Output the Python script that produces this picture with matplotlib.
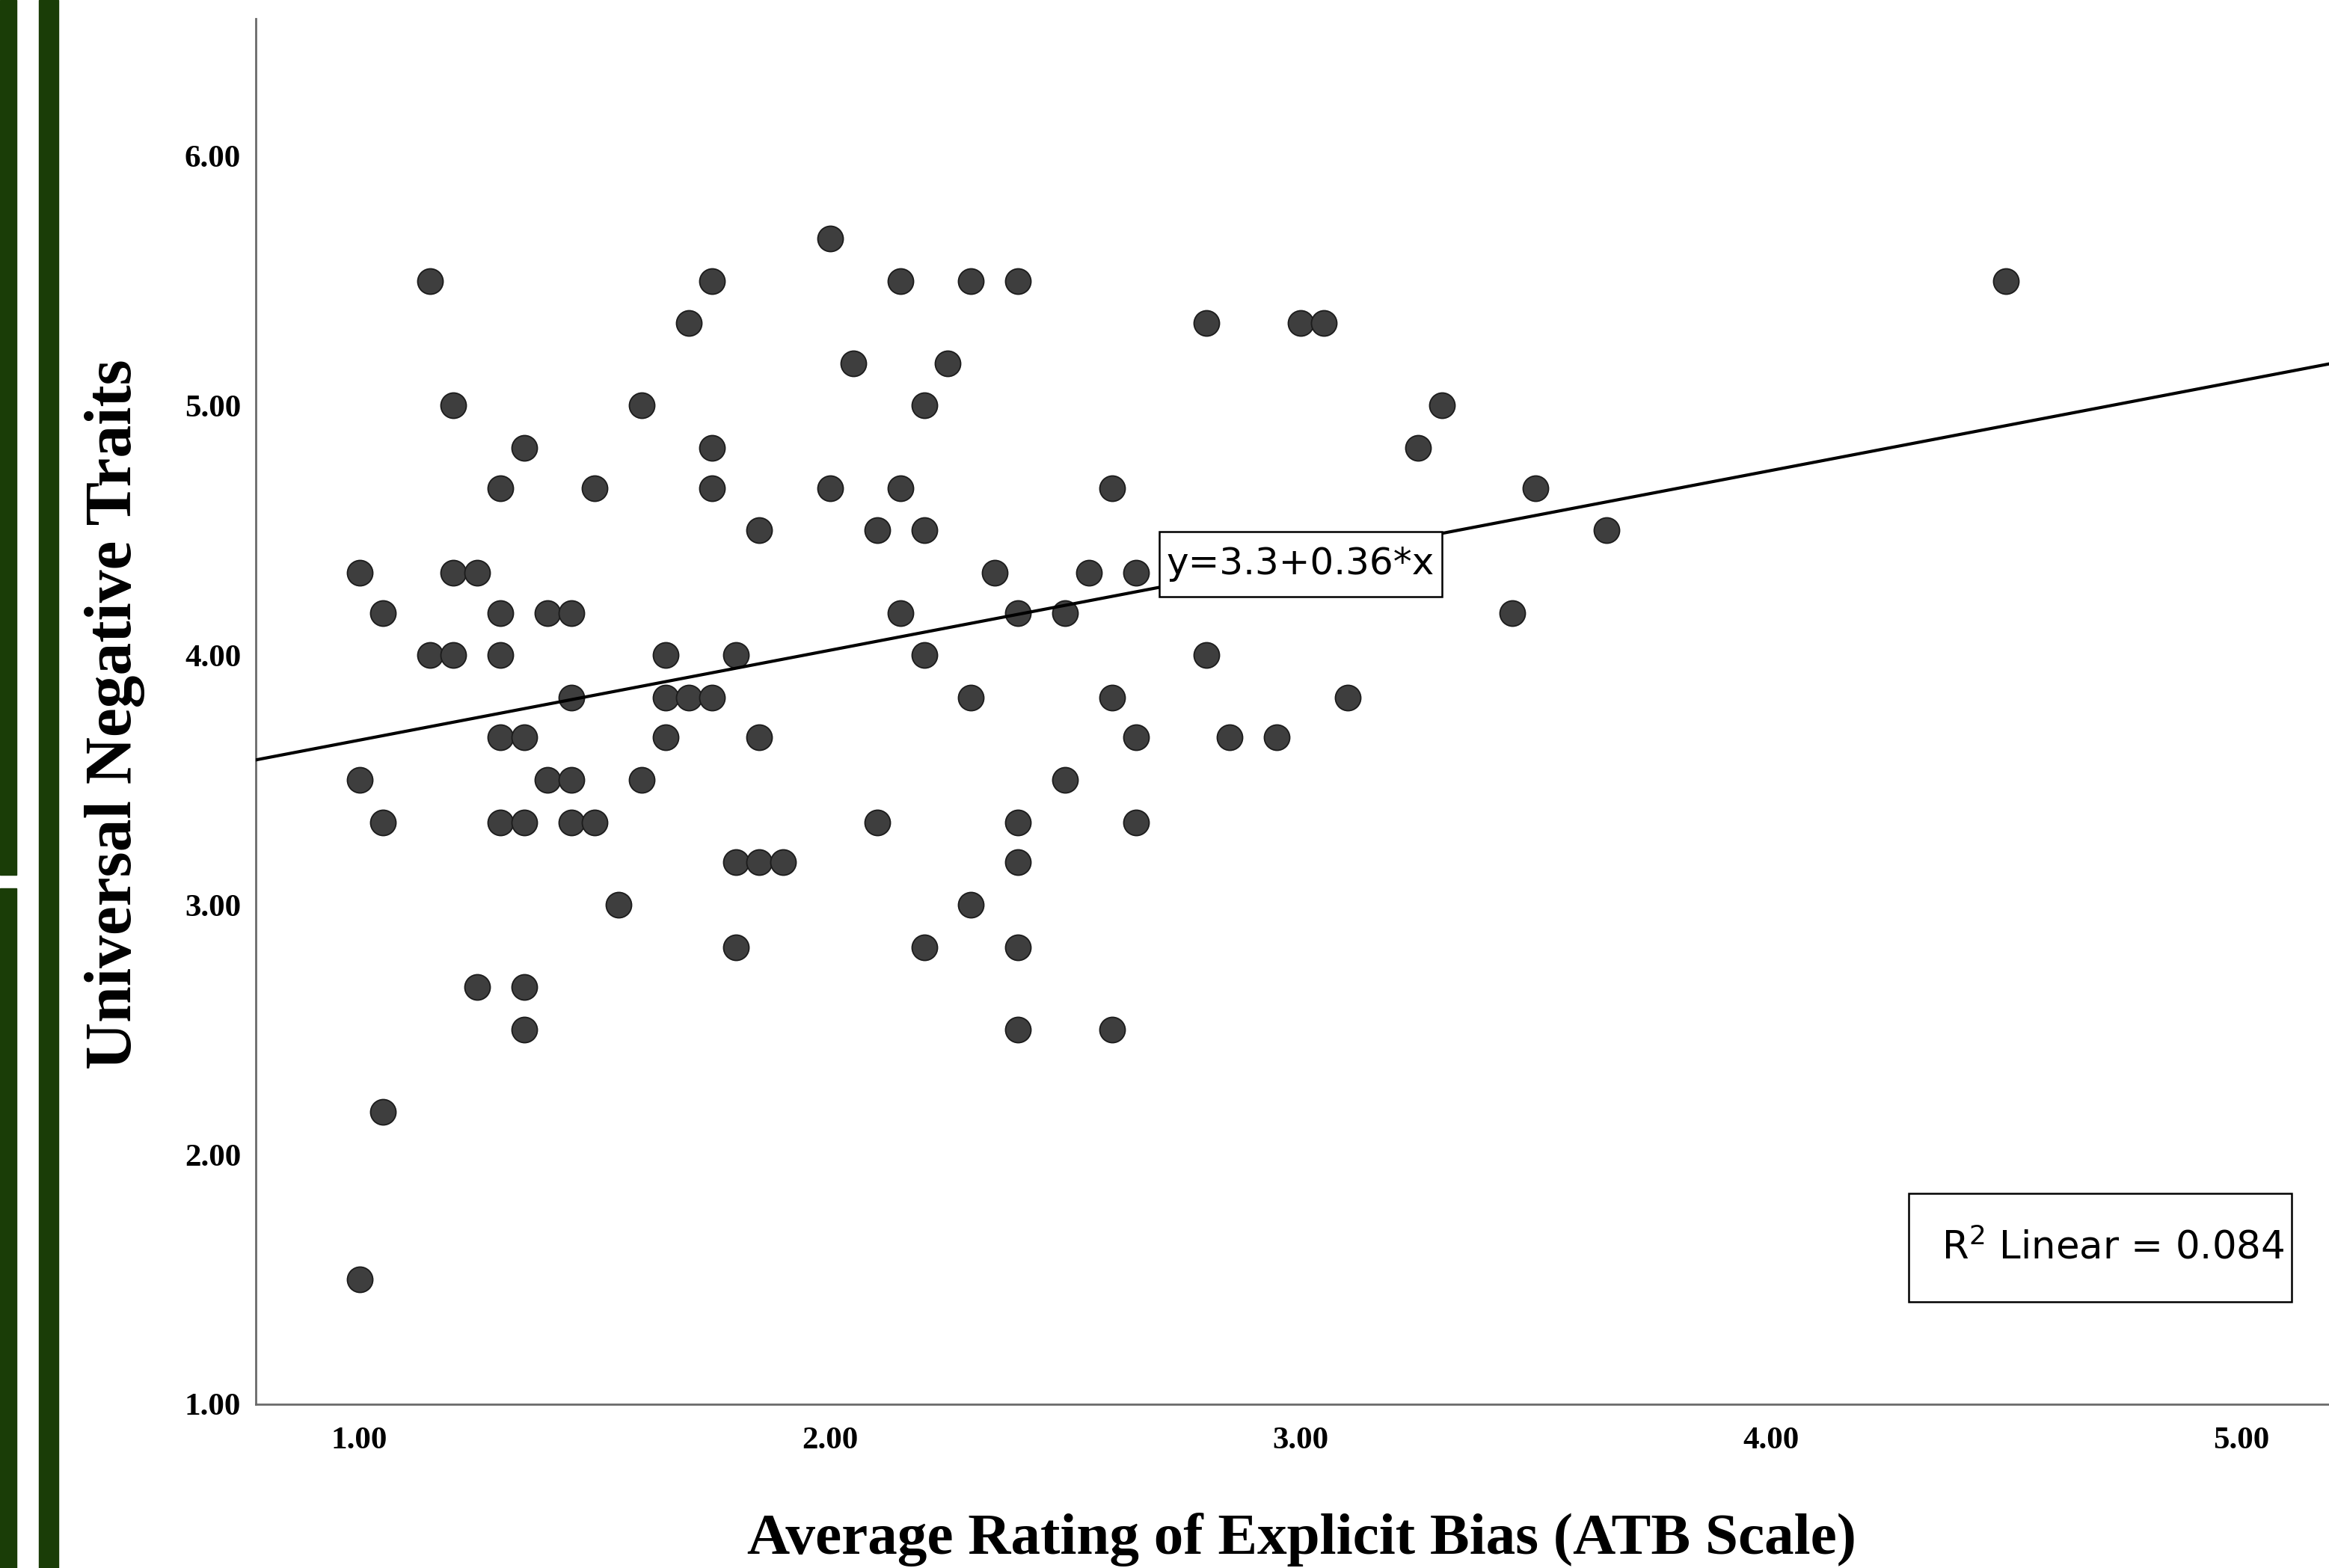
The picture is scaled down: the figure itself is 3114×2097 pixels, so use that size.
import numpy as np
import matplotlib
matplotlib.use("Agg")
import matplotlib.pyplot as plt
from matplotlib.patches import Rectangle

# data, one row of equal y values per line
bias_x = [2.00,
          1.15, 1.75, 2.15, 2.30, 2.40, 4.50,
          1.70, 2.80, 3.00, 3.05,
          2.05, 2.25,
          1.20, 1.60, 2.20, 3.30,
          1.35, 1.75, 3.25,
          1.30, 1.50, 1.75, 2.00, 2.15, 2.60, 3.50,
          1.85, 2.10, 2.20, 3.65,
          1.00, 1.20, 1.25, 2.35, 2.55, 2.65,
          1.05, 1.30, 1.40, 1.45, 2.15, 2.40, 2.50, 3.45,
          1.15, 1.20, 1.30, 1.65, 1.80, 2.20, 2.80,
          1.45, 1.65, 1.70, 1.75, 2.30, 2.60, 3.10,
          1.30, 1.35, 1.65, 1.85, 2.65, 2.85, 2.95,
          1.00, 1.40, 1.45, 1.60, 2.50,
          1.05, 1.30, 1.35, 1.45, 1.50, 2.10, 2.40, 2.65,
          1.80, 1.85, 1.90, 2.40,
          1.55, 2.30,
          1.80, 2.20, 2.40,
          1.25, 1.35,
          1.35, 2.40, 2.60,
          1.05,
          1.00]
traits_y = [5.67,
            5.50, 5.50, 5.50, 5.50, 5.50, 5.50,
            5.33, 5.33, 5.33, 5.33,
            5.17, 5.17,
            5.00, 5.00, 5.00, 5.00,
            4.83, 4.83, 4.83,
            4.67, 4.67, 4.67, 4.67, 4.67, 4.67, 4.67,
            4.50, 4.50, 4.50, 4.50,
            4.33, 4.33, 4.33, 4.33, 4.33, 4.33,
            4.17, 4.17, 4.17, 4.17, 4.17, 4.17, 4.17, 4.17,
            4.00, 4.00, 4.00, 4.00, 4.00, 4.00, 4.00,
            3.83, 3.83, 3.83, 3.83, 3.83, 3.83, 3.83,
            3.67, 3.67, 3.67, 3.67, 3.67, 3.67, 3.67,
            3.50, 3.50, 3.50, 3.50, 3.50,
            3.33, 3.33, 3.33, 3.33, 3.33, 3.33, 3.33, 3.33,
            3.17, 3.17, 3.17, 3.17,
            3.00, 3.00,
            2.83, 2.83, 2.83,
            2.67, 2.67,
            2.50, 2.50, 2.50,
            2.17,
            1.50]

fit_intercept = 3.3
fit_slope = 0.36
r_squared = 0.084

x_ticks = [1, 2, 3, 4, 5]
y_ticks = [1, 2, 3, 4, 5, 6]

plt.rcParams['font.family'] = ['Liberation Serif', 'DejaVu Serif']
plt.rcParams['mathtext.fontset'] = 'dejavusans'

fig = plt.figure(figsize=(31.14, 20.97), dpi=100)
ax = fig.add_axes([0.1097, 0.1045, 0.8903, 0.8836])
ax.set_xlim(0.779, 5.186)
ax.set_ylim(1.0, 6.55)

# poster border bars on the left
green = '#1a3d07'
fig.patches.append(Rectangle((0, 0.442), 0.0071, 0.558, transform=fig.transFigure,
                             color=green, zorder=0))
fig.patches.append(Rectangle((0, 0), 0.0071, 0.4335, transform=fig.transFigure,
                             color=green, zorder=0))
fig.patches.append(Rectangle((0.0167, 0), 0.0084, 1, transform=fig.transFigure,
                             color=green, zorder=0))

ax.scatter(bias_x, traits_y, s=600, c='#3e3e3e', edgecolors='#1c1c1c',
           linewidths=1.3, zorder=2)

# fit line across the whole plot area
xs = np.array(ax.get_xlim())
ax.plot(xs, fit_intercept + fit_slope * xs, color='black', lw=3, zorder=3)

# equation label box, centred on the line near x = 3
ax.add_patch(Rectangle((3.0 - 0.3, 4.365 - 0.13), 0.6, 0.26, fc='white', ec='black',
                       lw=1.8, zorder=4))
ax.text(3.0, 4.365, f"y={fit_intercept}+{fit_slope}*x", family='DejaVu Sans',
        fontsize=36, ha='center', va='center', zorder=5)

ax.add_patch(Rectangle((0.7973, 0.074), 0.1847, 0.0783, transform=ax.transAxes,
                       fc='white', ec='black', lw=1.8, zorder=4))
ax.text(0.8131, 0.1128, r"R$^{2}$ Linear = " + f"{r_squared:.3f}", transform=ax.transAxes,
        family='DejaVu Sans', fontsize=37, ha='left', va='center', zorder=5)

for side in ['top', 'right']:
    ax.spines[side].set_visible(False)
for side in ['left', 'bottom']:
    ax.spines[side].set_color('#6a6a6a')
    ax.spines[side].set_linewidth(2)

ax.set_xticks(x_ticks)
ax.set_xticklabels([f"{v:.2f}" for v in x_ticks])
ax.set_yticks(y_ticks)
ax.set_yticklabels([f"{v:.2f}" for v in y_ticks])
ax.tick_params(length=0, labelsize=31)
ax.tick_params(axis='y', pad=14)
ax.tick_params(axis='x', pad=22)
for lab in ax.get_xticklabels() + ax.get_yticklabels():
    lab.set_fontweight('bold')

fig.text(0.0492, 0.5445, "Universal Negative Traits", rotation=90, fontsize=63,
         fontweight='bold', ha='center', va='center')
fig.text(0.5588, 0.009, "Average Rating of Explicit Bias (ATB Scale)", fontsize=57,
         fontweight='bold', ha='center', va='baseline')

fig.savefig("out.png", dpi=100)
